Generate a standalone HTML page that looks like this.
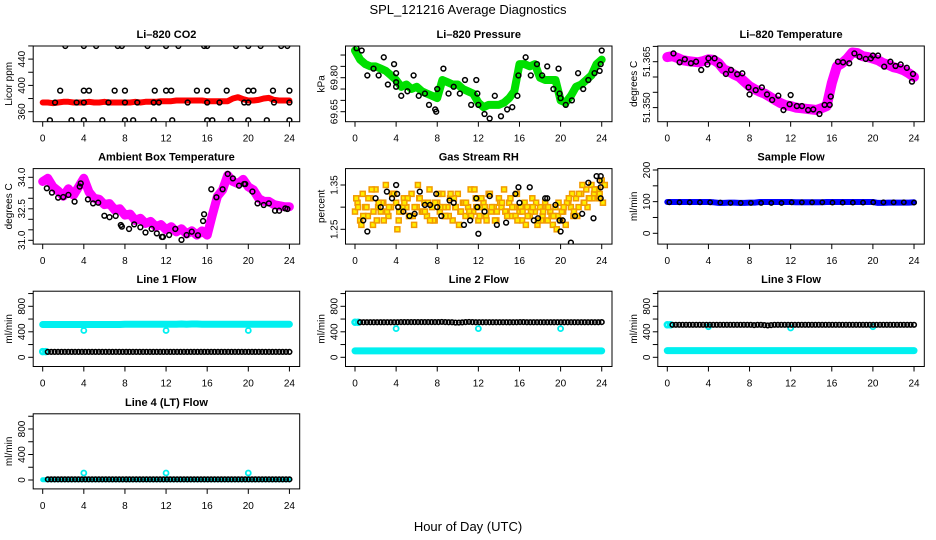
<!DOCTYPE html>
<html><head><meta charset="utf-8"><style>
html,body{margin:0;padding:0;background:#fff;}
svg{display:block;font-family:"Liberation Sans",sans-serif;}
</style></head><body>
<svg id="c" width="936" height="540" viewBox="0 0 936 540">
<text x="468" y="14" text-anchor="middle" font-size="13">SPL_121216  Average Diagnostics</text>
<text x="468" y="531" text-anchor="middle" font-size="13">Hour of Day (UTC)</text>
</svg>
<script>
// ---------- data ----------
const xTicks=[0,4,8,12,16,20,24];
const co2Red=[374,374,373,374,375,375,374,374,374,375,374,374,375,374,374,374,374,374,375,374,375,375,375,376,376,376,377,377,377,377,377,377,376,376,376,376,376,380,382,379,377,377,378,380,381,378,377,377,377];
const co2BlackH=[2.2,4,5.2,7.3,7.7,10.2,12,13.2,15.7,16,18.8,20,21.2,23.2,23.8, 1.7,4,4.5,7,8,10.9,12,12.5,15,16,17.9,20,20.5,22.4,24, 1.2,3.3,4,6.4,8,9.2,10.8,11.3,14.1,16,17.2,19.6,20,22.5,24, 0.7,2.8,4,5.8,8,8.8,10.8,12.6,16,16.5,18.3,20,21.8,24];
const co2BlackV=[460,460,460,460,460,460,460,460,460,460,460,460,460,460,460, 392,392,392,392,392,392,392,392,392,392,392,392,392,392,392, 374,374,374,374,374,374,374,374,374,374,374,374,374,374,374, 347,347,347,347,347,347,347,347,347,347,347,347,347,347];
const presGreen=[69.92,69.88,69.86,69.85,69.85,69.84,69.83,69.81,69.79,69.76,69.77,69.75,69.76,69.74,69.73,69.72,69.71,69.79,69.78,69.77,69.77,69.75,69.74,69.73,69.69,69.67,69.68,69.68,69.68,69.69,69.71,69.74,69.86,69.86,69.85,69.86,69.80,69.79,69.79,69.79,69.70,69.69,69.72,69.76,69.77,69.79,69.81,69.86,69.88];
const presBlackH=[0.15,0.65,1.2,1.8,2.3,2.8,3.2,3.8,4,4,4,4.5,5.1,5.7,6.2,6.8,7.2,7.8,7.9,8,8.6,9.1,9.6,10.2,10.7,11.3,11.8,11.9,12,12.6,13.1,13.6,14.2,14.8,15.3,15.8,15.9,16.6,17.1,17.7,18.2,18.7,19.3,19.8,19.9,20,20.5,21.1,21.7,22.2,22.7,23.3,23.8,23.9,24];
const presBlackV=[69.93,69.92,69.81,69.84,69.81,69.89,69.77,69.86,69.82,69.78,69.76,69.72,69.74,69.81,69.72,69.73,69.68,69.66,69.65,69.75,69.84,69.73,69.76,69.73,69.79,69.68,69.79,69.73,69.68,69.64,69.62,69.72,69.63,69.66,69.67,69.72,69.81,69.89,69.81,69.86,69.81,69.85,69.75,69.84,69.73,69.71,69.68,69.70,69.82,69.75,69.79,69.82,69.83,69.86,69.92];
const tempMag=[51.3665,51.3668,51.3662,51.3655,51.3652,51.365,51.3648,51.3652,51.3658,51.3656,51.3645,51.3625,51.3618,51.3608,51.36,51.3585,51.357,51.356,51.3552,51.3545,51.3535,51.3525,51.3515,51.3508,51.3505,51.35,51.3498,51.3496,51.3494,51.3492,51.3498,51.3505,51.358,51.3635,51.3645,51.366,51.368,51.3678,51.3668,51.3665,51.366,51.3655,51.3645,51.364,51.3632,51.3628,51.3622,51.3612,51.36];
const tempBlackH=[0.6,1.2,1.7,2.3,2.8,3.3,3.9,4,4.6,5.1,5.7,6.2,6.8,7.3,7.9,8,8.6,9.2,9.7,10.2,10.8,11.3,11.9,12,12.6,13.1,13.7,14.2,14.8,15.3,15.8,15.9,16.6,17.1,17.7,18.2,18.7,19.3,19.8,20,20.5,21.1,21.7,22.2,22.7,23.3,23.9,23.8];
const tempBlackV=[51.3677,51.3648,51.3658,51.3645,51.365,51.3623,51.3641,51.3661,51.3661,51.3639,51.361,51.3623,51.3609,51.3612,51.3566,51.3543,51.3557,51.3566,51.3543,51.3525,51.3539,51.3492,51.3511,51.3541,51.3505,51.3505,51.3492,51.3494,51.3479,51.3509,51.3509,51.3536,51.365,51.3648,51.3645,51.3677,51.3666,51.3659,51.3661,51.367,51.367,51.3634,51.365,51.3636,51.3641,51.363,51.361,51.3585];
const ambMag=[33.80,33.95,33.55,33.35,33.10,33.45,33.15,33.55,33.95,33.30,33.00,32.95,32.70,32.75,32.45,32.50,32.20,32.25,31.95,32.05,31.80,31.90,31.65,31.75,31.50,31.65,31.40,31.55,31.30,31.45,31.25,31.45,31.25,32.20,33.10,33.40,34.10,33.80,33.70,33.90,33.55,33.40,33.00,32.85,32.85,32.70,32.65,32.60,32.60];
const ambBlackH=[0.4,0.9,1.5,2,2.5,3.1,3.6,3.7,4.4,4.9,5.4,6,6.5,7.1,7.6,7.7,8.4,8.9,9.5,10,10.6,11.1,11.6,11.7,12.3,12.9,13.5,14,14.5,15.1,15.6,15.7,16.4,16.9,17.5,18,18.5,19.1,19.6,19.7,20.4,20.9,21.5,22,22.6,23,23.6,23.8];
const ambBlackV=[33.48,33.27,33.03,33.06,33.16,32.84,33.56,33.71,32.95,32.76,32.79,32.17,32.10,32.16,31.73,31.65,31.54,31.76,31.62,31.37,31.54,31.33,31.16,31.16,31.25,31.54,31.02,31.25,31.41,31.24,31.92,32.24,33.43,33.05,33.43,34.16,33.95,33.60,33.68,33.68,33.32,32.76,32.68,32.76,32.41,32.41,32.52,32.49];
const rhA=[1.29,1.31,1.27,1.33,1.30,1.28,1.32,1.26,1.34,1.30,1.29,1.31,1.35,1.28,1.30,1.33,1.31,1.27,1.29,1.32,1.30,1.28,1.33,1.26,1.30,1.32,1.29,1.31,1.28,1.34,1.30,1.27,1.31,1.29,1.33,1.28,1.30,1.32,1.27,1.30,1.33,1.29,1.31,1.28,1.30,1.34,1.29,1.32,1.27,1.30,1.31,1.28,1.33,1.29,1.30,1.27,1.32,1.30,1.34,1.29,1.31,1.28,1.30,1.33,1.29,1.27,1.31,1.30,1.28,1.32,1.29,1.26,1.30,1.28,1.31,1.27,1.29,1.26,1.30,1.28,1.27,1.29,1.26,1.31,1.30,1.28,1.32,1.30,1.33,1.31,1.34,1.32,1.35,1.33,1.34,1.32,1.36];
const rhB=[1.32,1.26,1.30,1.34,1.27,1.31,1.29,1.33,1.25,1.30,1.32,1.28,1.35,1.29,1.31,1.27,1.33,1.30,1.28,1.32,1.26,1.31,1.29,1.34,1.28,1.30,1.33,1.27,1.31,1.29,1.32,1.28,1.30,1.26,1.29,1.31,1.27,1.30,1.28,1.25,1.29,1.31,1.33,1.28,1.35,1.30,1.32,1.34,1.31];
const rhC=[1.30,1.28,1.32,1.29,1.31,1.27,1.30,1.33,1.29,1.31,1.28,1.30,1.32,1.29,1.27,1.31,1.30,1.28,1.33,1.30,1.29,1.31,1.28,1.30,1.32,1.27,1.30,1.29,1.31,1.28,1.30,1.27,1.29,1.28,1.30,1.27,1.29,1.30,1.28,1.31,1.30,1.32,1.29,1.33,1.31,1.32,1.34,1.33,1.35];
const rhBlackH=[0.8,1.2,2,2.5,3.1,3.6,4,4.1,4.2,4.7,5.3,5.8,6.3,6.8,7.3,7.9,8,8.4,9.2,9.6,10.6,11.2,11.8,11.9,12,12.6,13.1,13.8,14.7,15.6,15.9,16,17,17.4,17.8,18.5,18.7,19.5,19.9,20,20.2,21,21.4,22.1,22.7,23.2,23.5,23.8,23.9,23.9,23.9];
const rhBlackV=[1.27,1.245,1.32,1.30,1.335,1.32,1.35,1.33,1.30,1.29,1.28,1.285,1.335,1.305,1.305,1.33,1.30,1.28,1.315,1.31,1.26,1.27,1.32,1.30,1.24,1.29,1.325,1.26,1.265,1.33,1.345,1.31,1.345,1.27,1.275,1.32,1.32,1.305,1.27,1.245,1.27,1.22,1.28,1.285,1.355,1.275,1.37,1.36,1.37,1.345,1.32];
const sfBlue=[99,99,99,99,99,99,99,99,99,98,96,96,97,97,96,96,97,97,99,99,99,99,99,99,99,98,98,98,98,98,98,99,99,99,99,99,99,99,99,99,99,96,96,97,97,97,97,97,98];
const sfBlack=[98,98,98,98,98,97,96,96,96,96,96,96,98,98,98,98,97,97,97,97,98,98,98,98,97];
const l1Cyan=[515,515,515,515,515,515,515,515,515,515,515,515,515,515,515,515,518,518,518,518,518,518,518,518,518,520,520,522,520,522,522,520,520,518,518,518,518,518,518,518,518,518,518,518,518,518,518,518,518];
const l1Black=[85,85,85,85,85,85,85,85,85,85,85,85,85,85,85,85,85,85,85,85,85,85,85,85,85,85,85,85,85,85,85,85,85,85,85,85,85,85,85,85,85,85,85,85,85,85,85,85,85,85,85,85,85,85,85,85,85,85,85,85,85,85,85,85,85,85,85,85,85,85,85,85];
const l1DipH=[4,12,20], l1DipV=[420,420,420];
const l2Cyan=[100,100,100,100,100,100,100,100,100,100,100,100,100,100,100,100,100,100,100,100,100,100,100,100,100,100,100,100,100,100,100,100,100,100,100,100,100,100,100,100,100,100,100,100,100,100,100,100,100];
const l2Black=[550,550,550,550,550,550,550,550,550,550,550,550,552,552,552,552,552,552,552,552,552,552,552,552,555,552,550,550,545,545,548,552,555,552,550,550,550,550,550,550,550,550,550,550,550,550,550,552,552,550,550,550,550,550,550,550,550,550,550,550,550,550,550,550,550,550,550,550,550,550,550,552];
const l2DipH=[4,12,20], l2DipV=[450,450,450];
const l3Cyan=[105,105,105,105,105,105,105,105,105,105,105,105,105,105,105,105,105,105,105,105,105,105,105,105,105,105,105,105,105,105,105,105,105,105,105,105,105,105,105,105,105,105,105,105,105,105,105,105,105];
const l3Black=[510,510,510,510,510,510,510,510,510,510,510,510,510,510,510,510,510,510,510,510,510,510,510,510,505,510,510,505,500,505,510,510,510,510,510,510,510,510,510,510,510,510,510,510,510,510,510,510,510,510,510,510,510,510,510,510,510,510,510,510,510,510,510,510,510,510,510,510,510,510,510,510];
const l3DipH=[4,12,20], l3DipV=[480,460,480];
const l4Cyan=[5,5,5,5,5,5,5,5,5,5,5,5,5,5,5,5,5,5,5,5,5,5,5,5,5,5,5,5,5,5,5,5,5,5,5,5,5,5,5,5,5,5,5,5,5,5,5,5,5];
const l4Black=[10,10,10,10,10,10,10,10,10,10,10,10,10,10,10,10,10,10,10,10,10,10,10,10,10,10,10,10,10,10,10,10,10,10,10,10,10,10,10,10,10,10,10,10,10,10,10,10,10,10,10,10,10,10,10,10,10,10,10,10,10,10,10,10,10,10,10,10,10,10,10,10];
const l4BumpH=[4,12,20], l4BumpV=[110,110,110];

// ---------- drawing ----------
const NS='http://www.w3.org/2000/svg';
const svg=document.getElementById('c');
const X0=[42.7,355,667.3], HPX=10.28;
function mk(tag,attrs,parent){const e=document.createElementNS(NS,tag);for(const k in attrs)e.setAttribute(k,attrs[k]);(parent||svg).appendChild(e);return e;}
function hAt(arr,i){return i*24/(arr.length-1);}

function panel(r,c,title,ylab,v1,p1,v2,p2,ticks,labels,key){
  const g=mk('g',{});
  
  
  const top=46+122.6*r, bot=121.7+122.4*r;
  const left=X0[c]-9.5, right=X0[c]+257;
  const x=h=>X0[c]+h*HPX;
  const y=v=>p1+(v-v1)*(p2-p1)/(v2-v1);
  const t=mk('text',{x:(left+right)/2,y:top-8,'text-anchor':'middle','font-size':11,'font-weight':'bold'},g);
  t.textContent=title;
  
  
  const yl=mk('text',{x:0,y:0,'text-anchor':'middle','font-size':10,transform:`translate(${left-21},${(top+bot)/2}) rotate(-90)`},g);
  yl.textContent=ylab;
  
  
  const plot=mk('g',{},g);
  
  
  const cp=mk('clipPath',{id:'cp'+key},g);
  mk('rect',{x:left,y:top,width:right-left,height:bot-top},cp);
  plot.setAttribute('clip-path','url(#cp'+key+')');
  const box=mk('rect',{x:left,y:top,width:right-left,height:bot-top,fill:'none',stroke:'#000','stroke-width':1},g);
  
  
  xTicks.forEach(h=>{
    mk('line',{x1:x(h),x2:x(h),y1:bot,y2:bot+5,stroke:'#000'},g);
    const tl=mk('text',{x:x(h),y:bot+20,'text-anchor':'middle','font-size':10},g);
    tl.textContent=h;
    
    
  });
  ticks.forEach((v,i)=>{
    mk('line',{x1:left,x2:left-5,y1:y(v),y2:y(v),stroke:'#000'},g);
    if(labels[i]){
      const tl=mk('text',{x:0,y:0,'text-anchor':'middle','font-size':10,transform:`translate(${left-8},${y(v)}) rotate(-90)`},g);
      tl.textContent=labels[i];
      
      
    }
  });
  return {x,y,plot};
}
function band(P,vals,color,w,name){
  const pts=vals.map((v,i)=>P.x(hAt(vals,i)).toFixed(1)+','+P.y(v).toFixed(1)).join(' ');
  const e=mk('polyline',{points:pts,fill:'none',stroke:color,'stroke-width':w,'stroke-linejoin':'round','stroke-linecap':'round'},P.plot);
  
  
}
function circles(P,hs,vs,color,r,sw,name){
  hs.forEach((h,i)=>{
    const e=mk('circle',{cx:P.x(h),cy:P.y(vs[i]),r:r,fill:'none',stroke:color,'stroke-width':sw},P.plot);
    
    
  });
}
function circlesIdx(P,vals,color,r,sw,name,h0){
  const span=24-(h0||0);
  vals.forEach((v,i)=>{
    const e=mk('circle',{cx:P.x((h0||0)+i*span/(vals.length-1)),cy:P.y(v),r:r,fill:'none',stroke:color,'stroke-width':sw},P.plot);
    
    
  });
}
function rhPts(P,vals,off,name){
  vals.forEach((v,i)=>{
    const cx=P.x(hAt(vals,i)+off), cy=P.y(v);
    const e=mk('rect',{x:cx-2.5,y:cy-2.5,width:5,height:5,fill:'#ffee00',stroke:'#f29a00','stroke-width':1.5},P.plot);
    
    
  });
}

// Li-820 CO2
let P=panel(0,0,'Li\u2013820 CO2','Licor ppm',360,111.7,400,85.4,[360,380,400,420,440,460],['360','','400','','440',''],'co2');
band(P,co2Red,'#ff0000',6,'co2-series');
circles(P,co2BlackH,co2BlackV,'#000',2.4,1.5,'co2-average-point');
// Pressure
P=panel(0,1,'Li\u2013820 Pressure','kPa',69.65,111.7,69.80,77.7,[69.65,69.70,69.75,69.80,69.85,69.90],['69.65','','','69.80','',''],'pressure');
band(P,presGreen,'#00e000',8,'pressure-series');
circles(P,presBlackH,presBlackV,'#000',2.4,1.5,'pressure-average-point');
// Li-820 Temperature
P=panel(0,2,'Li\u2013820 Temperature','degrees C',51.350,107.6,51.365,61.7,[51.350,51.355,51.360,51.365,51.370],['51.350','','','51.365',''],'li820-temp');
band(P,tempMag,'#ff00ff',10,'li820-temp-series');
circles(P,tempBlackH,tempBlackV,'#000',2.4,1.5,'li820-temp-average-point');
// Ambient
P=panel(1,0,'Ambient Box Temperature','degrees C',34.0,177.3,31.0,240.3,[31.0,31.5,32.0,32.5,33.0,33.5,34.0],['31.0','','','32.5','','','34.0'],'ambient');
band(P,ambMag,'#ff00ff',9,'ambient-series');
circles(P,ambBlackH,ambBlackV,'#000',2.4,1.5,'ambient-average-point');
// Gas Stream RH
P=panel(1,1,'Gas Stream RH','percent',1.35,185,1.25,229.3,[1.25,1.30,1.35],['1.25','','1.35'],'rh');
rhPts(P,rhA,0,'rh-point');
rhPts(P,rhB,0.12,'rh-point');
rhPts(P,rhC,0.3,'rh-point');
circles(P,rhBlackH,rhBlackV,'#000',2.4,1.5,'rh-average-point');
// Sample Flow
P=panel(1,2,'Sample Flow','ml/min',0,233.3,200,170,[0,50,100,150,200],['0','','100','','200'],'sample-flow');
band(P,sfBlue,'#0000ff',6,'sample-flow-series');
circlesIdx(P,sfBlack,'#000',2.2,1.5,'sample-flow-average-point',0.2);
const fT=[0,200,400,600,800,1000], fL=['0','','400','','800',''];
// Line 1
P=panel(2,0,'Line 1 Flow','ml/min',0,357.3,800,306.3,fT,fL,'line1');
band(P,l1Cyan,'#00f0f0',7,'line1-cyan-series');
circles(P,[0,0.3],[90,90],'#00f0f0',2.5,2.5,'line1-cyan-start');
circles(P,l1DipH,l1DipV,'#00f0f0',2.5,1.8,'line1-cyan-dip');
circlesIdx(P,l1Black,'#000',2.3,1.6,'line1-black-point',0.5);
// Line 2
P=panel(2,1,'Line 2 Flow','ml/min',0,357.3,800,306.3,fT,fL,'line2');
band(P,l2Cyan,'#00f0f0',7,'line2-cyan-series');
circles(P,[0,0.3],[550,550],'#00f0f0',2.5,2.5,'line2-cyan-start');
circles(P,l2DipH,l2DipV,'#00f0f0',2.5,1.8,'line2-cyan-dip');
circlesIdx(P,l2Black,'#000',2.3,1.6,'line2-black-point',0.5);
// Line 3
P=panel(2,2,'Line 3 Flow','ml/min',0,357.3,800,306.3,fT,fL,'line3');
band(P,l3Cyan,'#00f0f0',7,'line3-cyan-series');
circles(P,[0,0.3],[510,510],'#00f0f0',2.5,2.5,'line3-cyan-start');
circles(P,l3DipH,l3DipV,'#00f0f0',2.5,1.8,'line3-cyan-dip');
circlesIdx(P,l3Black,'#000',2.3,1.6,'line3-black-point',0.5);
// Line 4
P=panel(3,0,'Line 4 (LT) Flow','ml/min',0,480,800,429,fT,fL,'line4');
band(P,l4Cyan,'#00f0f0',5,'line4-cyan-series');
circles(P,l4BumpH,l4BumpV,'#00f0f0',2.5,1.8,'line4-cyan-bump');
circlesIdx(P,l4Black,'#000',2.3,1.6,'line4-black-point',0.5);
</script>
</body></html>
